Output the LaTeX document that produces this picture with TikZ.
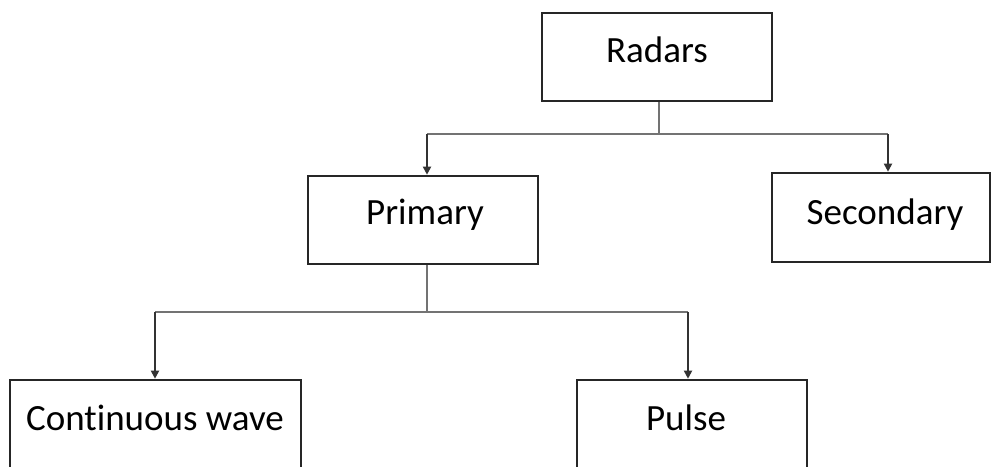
\documentclass[tikz,border=0pt]{standalone}
\usepackage{fontspec}
\setmainfont[Ligatures=NoCommon]{Carlito}
\usetikzlibrary{arrows.meta}
\begin{document}
\begin{tikzpicture}[x=1pt,y=-1pt,
  box/.style={draw=black!85, line width=2.6pt, fill=white, inner sep=0pt, minimum width=230pt, minimum height=88pt},
  lbl/.style={inner sep=0pt, font=\fontsize{37}{40}\selectfont},
  stem/.style={draw=black!55, line width=1.6pt},
  feed/.style={draw=black!80, line width=1.8pt, -{Triangle[length=8pt,width=8pt]}}]
\useasboundingbox (0,0) rectangle (992,466);
% boxes
\node[box] (radars) at (657,57) {};
\node[box] (primary) at (423,220) {};
\node[box, minimum width=218pt, minimum height=89pt] (secondary) at (881,217.5) {};
\node[box, minimum width=291pt, minimum height=100pt] (cw) at (155.5,430) {};
\node[box, minimum height=100pt] (pulse) at (692,430) {};
% labels
\node[lbl] at (657,50) {Radars};
\node[lbl] at (425,215) {Primary};
\node[lbl] at (885,215) {Secondary};
\node[lbl] at (155,418) {Continuous wave};
\node[lbl] at (686,418) {Pulse};
% branch junctions
\coordinate (j1) at (659,134);
\coordinate (j2) at (427,312);
\coordinate (a1) at (427,134);
\coordinate (a2) at (888,134);
\coordinate (b1) at (155,312);
\coordinate (b2) at (688,312);
% connectors
\draw[stem] (radars.south -| j1) -- (j1);
\draw[stem] (a1) -- (a2);
\draw[feed] (a1) -- (a1 |- primary.north);
\draw[feed] (a2) -- (a2 |- secondary.north);
\draw[stem] (primary.south -| j2) -- (j2);
\draw[stem] (b1) -- (b2);
\draw[feed] (b1) -- (b1 |- cw.north);
\draw[feed] (b2) -- (b2 |- pulse.north);
\end{tikzpicture}
\end{document}
